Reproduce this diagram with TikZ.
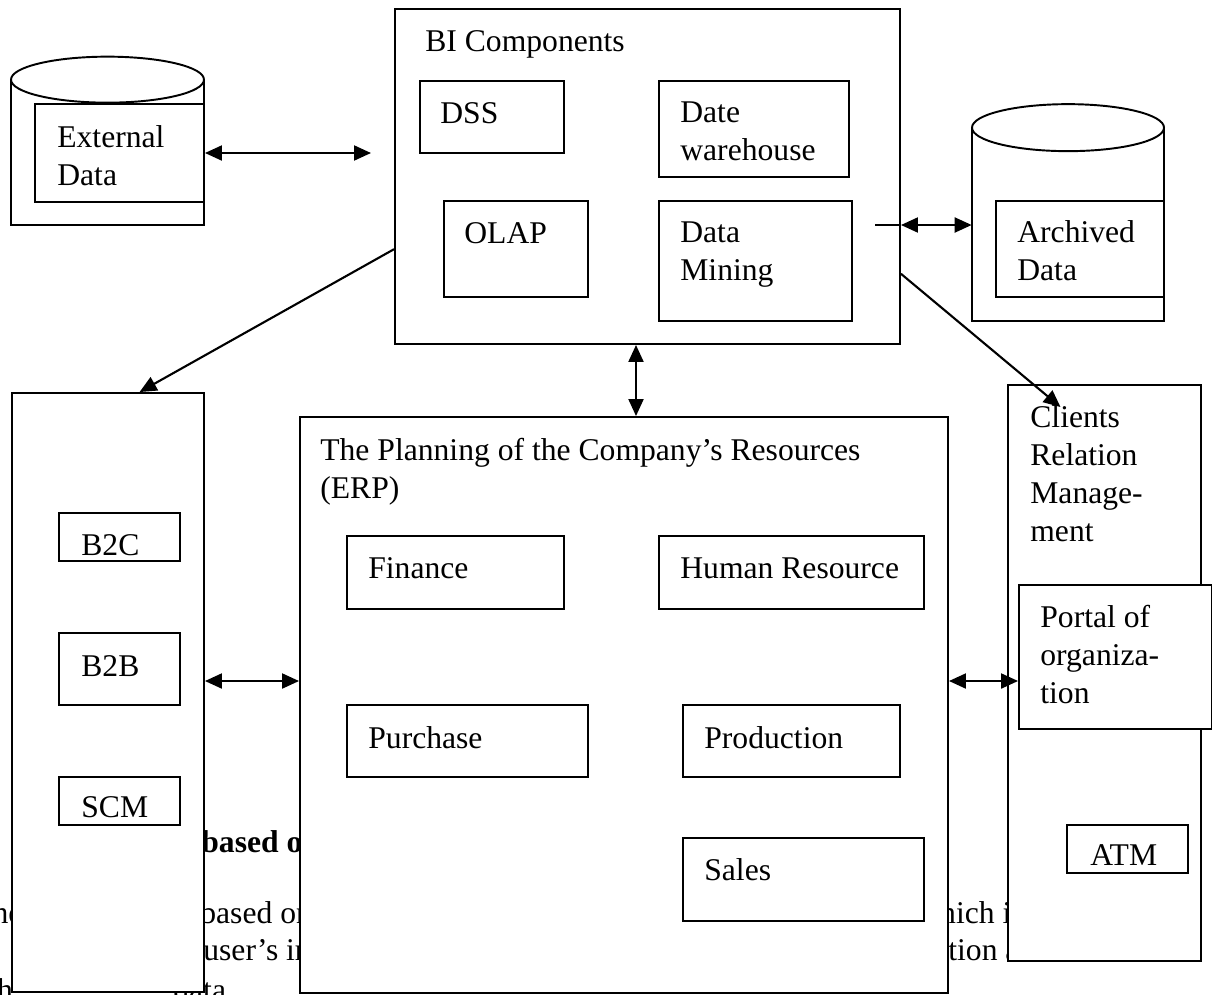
\documentclass[tikz,border=0pt]{standalone}
\usepackage{fontspec}
\setmainfont{Liberation Serif}
\usetikzlibrary{arrows.meta,fit}

\begin{document}
\begin{tikzpicture}[x=0.02cm, y=-0.02cm,
      box/.style={draw,fill=white,line width=1.1pt,inner sep=0pt},
      lbl/.style={anchor=north west,align=left,inner sep=0pt,yshift=-0.06cm,font=\fontsize{18}{21.6}\selectfont},
      frag/.style={anchor=base west,inner sep=0pt,font=\fontsize{18}{21.6}\selectfont},
      trans/.style={-{Triangle[length=3.4mm,width=3mm]},line width=1.2pt},
      btrans/.style={{Triangle[length=3.4mm,width=3mm]}-{Triangle[length=3.4mm,width=3mm]},line width=1.2pt},
      plain/.style={line width=1.1pt},
      ]
      \useasboundingbox (0,0) rectangle (1212,994);
      % page text showing through
      \node (f1) at (201,852) [frag] {\textbf{based on}};
      \node (f2) at (-27,923) [frag] {The};
      \node (f3) at (200,923) [frag] {based on};
      \node (f4) at (917,923) [frag] {which is};
      \node (f5) at (203,960) [frag] {user’s in};
      \node (f6) at (948,960) [frag] {tion and};
      \node (f7) at (-12,1000) [frag] {th};
      \node (f8) at (173,1000) [frag] {data};

      % cylinders
      \node (extcyl) [inner sep=0pt,fit={(11,80) (204,225)}] {};
      \draw [plain,fill=white] (extcyl.north west) -- (extcyl.south west) -- (extcyl.south east) -- (extcyl.north east);
      \draw [plain,fill=white] (extcyl.north) ellipse [x radius=96.5, y radius=23];
      \node (ext) [box,fit={(35,104) (204,202)}] {};

      \node (arch) [inner sep=0pt,fit={(972,128) (1164,321)}] {};
      \draw [plain,fill=white] (arch.north west) -- (arch.south west) -- (arch.south east) -- (arch.north east);
      \draw [plain,fill=white] (arch.north) ellipse [x radius=96, y radius=23.5];
      \node (archin) [box,fit={(996,201) (1164,297)}] {};

      % BI
      \node (bi) [box,fit={(395,9) (900,344)}] {};
      \node (dss) [box,fit={(420,81) (564,153)}] {};
      \node (dw) [box,fit={(659,81) (849,177)}] {};
      \node (olap) [box,fit={(444,201) (588,297)}] {};
      \node (dm) [box,fit={(659,201) (852,321)}] {};

      % left column
      \node (lbox) [box,fit={(12,393) (204,992)}] {};
      \node (b2c) [box,fit={(59,513) (180,561)}] {};
      \node (b2b) [box,fit={(59,633) (180,705)}] {};
      \node (scm) [box,fit={(59,777) (180,825)}] {};

      % ERP
      \node (erp) [box,fit={(300,417) (948,993)}] {};
      \node (fin) [box,fit={(347,536) (564,609)}] {};
      \node (hr) [box,fit={(659,536) (924,609)}] {};
      \node (pur) [box,fit={(347,705) (588,777)}] {};
      \node (prod) [box,fit={(683,705) (900,777)}] {};
      \node (sales) [box,fit={(683,838) (924,921)}] {};

      % CRM
      \node (crm) [box,fit={(1008,385) (1201,961)}] {};
      \node (portal) [box,fit={(1019,585) (1212,729)}] {};
      \node (atm) [box,fit={(1067,825) (1188,873)}] {};

      \node (extt) at (57,122.5) [lbl] {External\\Data};
      \node (archt) at (1017,217.5) [lbl] {Archived\\Data};
      \node (bit) at (425,27.5) [lbl] {BI Components};
      \node (dsst) at (440,99) [lbl] {DSS};
      \node (dwt) at (680,98.5) [lbl] {Date\\warehouse};
      \node (olapt) at (464,219) [lbl] {OLAP};
      \node (dmt) at (680,218.5) [lbl] {Data\\Mining};
      \node (b2ct) at (81,531) [lbl] {B2C};
      \node (b2bt) at (81,652) [lbl] {B2B};
      \node (scmt) at (81,793) [lbl] {SCM};
      \node (erpt) at (320,434.5) [lbl] {The Planning of the Company’s Resources\\(ERP)};
      \node (fint) at (368,554.5) [lbl] {Finance};
      \node (hrt) at (680,554.5) [lbl] {Human Resource};
      \node (purt) at (368,723.5) [lbl] {Purchase};
      \node (prodt) at (704,723.5) [lbl] {Production};
      \node (salest) at (704,855.5) [lbl] {Sales};
      \node (crmt) at (1030,402.5) [lbl] {Clients\\Relation\\Manage-\\ment};
      \node (portalt) at (1040,601.5) [lbl] {Portal of\\organiza-\\tion};
      \node (atmt) at (1090,841) [lbl] {ATM};

      \coordinate (extfree) at (371,153);
      \coordinate (dmfree) at (875,225);
      \coordinate (mid) at (636,380);
      \coordinate (row) at (250,681);

      \draw [btrans] (ext.east) -- (extfree);
      \draw [plain] (dmfree) -- (bi.east |- dmfree);
      \draw [btrans] (bi.east |- dmfree) -- (arch.west |- dmfree);
      \draw [btrans] (bi.south -| mid) -- (erp.north -| mid);
      \draw [btrans] (lbox.east |- row) -- (erp.west |- row);
      \draw [btrans] (erp.east |- row) -- (portal.west |- row);
      \draw [trans] (bi.196) -- (lbox.84);
      \draw [trans] (bi.-21) -- ([shift={(-44,23)}]crm.north);
    \end{tikzpicture}
\end{document}
